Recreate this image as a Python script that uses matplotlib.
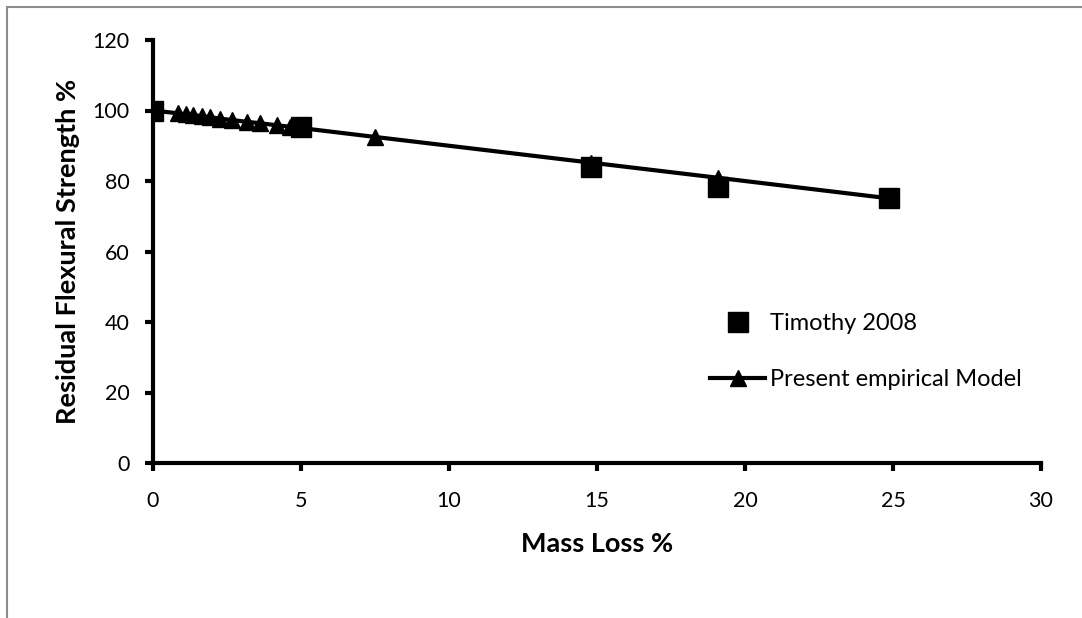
import matplotlib.pyplot as plt
from matplotlib.patches import Rectangle

plt.rcParams['font.family'] = ['Lato', 'DejaVu Sans']

# Timothy 2008 (squares)
timothy_x = [0, 5.0, 14.8, 19.1, 24.85]
timothy_y = [100, 95.2, 84.0, 78.2, 75.2]

# Present empirical model (line + triangles)
model_x = [0, 0.85, 1.1, 1.35, 1.64, 1.92, 2.26, 2.66, 3.16, 3.61, 4.18, 4.63, 7.5, 14.8, 19.1, 24.85]
model_y = [100, 99.2, 98.9, 98.7, 98.4, 98.1, 97.7, 97.3, 96.8, 96.4, 95.8, 95.4, 92.5, 85.2, 80.9, 75.1]

x_ticks = [0, 5, 10, 15, 20, 25, 30]
y_ticks = [0, 20, 40, 60, 80, 100, 120]

fig = plt.figure(figsize=(10.82, 6.18), dpi=100)
ax = fig.add_axes([153 / 1082, 1 - 463 / 618, (1041 - 153) / 1082, (463 - 40) / 618])

# gray outer frame (only top and left visible)
fig.patches.append(Rectangle((7 / 1082, -0.1), 1.2, 1 - 7 / 618 + 0.1, transform=fig.transFigure,
                             fill=False, edgecolor='#8c8c8c', linewidth=1.5))

ax.plot(timothy_x, timothy_y, linestyle='none', marker='s', markersize=14.5, color='black',
        label='Timothy 2008', zorder=4)
ax.plot(model_x, model_y, color='black', linewidth=3, marker='^', markersize=12,
        label='Present empirical Model', zorder=3)

ax.set_xlim(0, 30)
ax.set_ylim(0, 120)
ax.set_xticks(x_ticks)
ax.set_yticks(y_ticks)
ax.tick_params(axis='both', labelsize=15.5, width=3, length=6, direction='out')
ax.tick_params(axis='x', pad=14)
ax.tick_params(axis='y', pad=11)
ax.spines['top'].set_visible(False)
ax.spines['right'].set_visible(False)
ax.spines['left'].set_linewidth(3)
ax.spines['bottom'].set_linewidth(3)

ax.set_xlabel('Mass Loss %', fontsize=19.5, fontweight='bold', labelpad=15)
ax.set_ylabel('Residual Flexural Strength %', fontsize=19.5, fontweight='bold', labelpad=9)

ax.legend(loc='upper left', bbox_to_anchor=((710 - 153) / 888, (463 - 313) / 423), frameon=False,
          fontsize=17, handlelength=2.33, labelspacing=1.5, handletextpad=0.2,
          borderaxespad=0, borderpad=0)

fig.savefig('out.png', dpi=100)
